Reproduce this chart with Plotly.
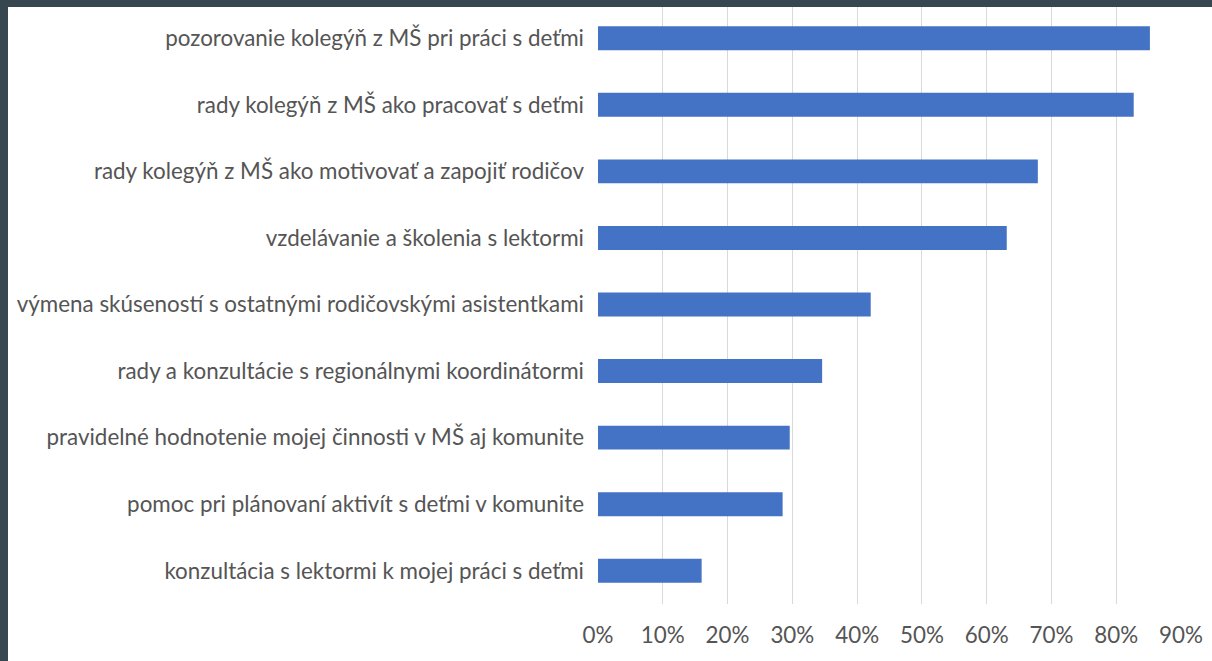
import plotly.graph_objects as go

categories = [
    "pozorovanie kolegýň z MŠ pri práci s deťmi",
    "rady kolegýň z MŠ ako pracovať s deťmi",
    "rady kolegýň z MŠ ako motivovať a zapojiť rodičov",
    "vzdelávanie a školenia s lektormi",
    "výmena skúseností s ostatnými rodičovskými asistentkami",
    "rady a konzultácie s regionálnymi koordinátormi",
    "pravidelné hodnotenie mojej činnosti v MŠ aj komunite",
    "pomoc pri plánovaní aktivít s deťmi v komunite",
    "konzultácia s lektormi k mojej práci s deťmi",
]
values = [0.852, 0.827, 0.679, 0.631, 0.421, 0.346, 0.296, 0.285, 0.160]
tick_vals = [0, 0.1, 0.2, 0.3, 0.4, 0.5, 0.6, 0.7, 0.8, 0.9]
tick_text = ["0%", "10%", "20%", "30%", "40%", "50%", "60%", "70%", "80%", "90%"]

W, H = 1212, 661
L, R, T, B = 598, 31, 5, 57
pw, ph = W - L - R, H - T - B

fig = go.Figure(go.Bar(
    x=values[::-1], y=categories[::-1], orientation="h",
    marker=dict(color="#4472C4", line=dict(width=0)),
    hoverinfo="skip",
))

border = "#37474F"
fs = 22.4
fig.update_layout(
    width=W, height=H,
    margin=dict(l=L, r=R, t=T, b=B, autoexpand=False),
    paper_bgcolor="white", plot_bgcolor="white",
    bargap=0.64,
    showlegend=False,
    font=dict(family="Lato", size=fs, color="#555555"),
    xaxis=dict(range=[0, 0.9], tickvals=tick_vals, ticktext=tick_text,
               showgrid=True, gridcolor="#D9D9D9", gridwidth=1,
               zeroline=False, showline=False, ticks="",
               tickfont=dict(size=fs, color="#555555"), ticklabelstandoff=16),
    yaxis=dict(showgrid=False, zeroline=False, showline=False, ticks="",
               tickfont=dict(size=fs, color="#555555"), ticklabelstandoff=13,
               range=[-0.5, 8.5]),
    shapes=[
        dict(type="rect", xref="paper", yref="paper", layer="above",
             x0=-L / pw, x1=(8 - L) / pw, y0=-B / ph, y1=1 + T / ph,
             fillcolor=border, line=dict(width=0)),
        dict(type="rect", xref="paper", yref="paper", layer="above",
             x0=-L / pw, x1=1 + R / pw, y0=1 - (7 - T) / ph, y1=1 + T / ph,
             fillcolor=border, line=dict(width=0)),
    ],
)

fig.write_html(
    "out.html",
    config={"displayModeBar": False},
    post_script="document.body.style.margin='0';document.body.style.overflow='hidden';",
)
